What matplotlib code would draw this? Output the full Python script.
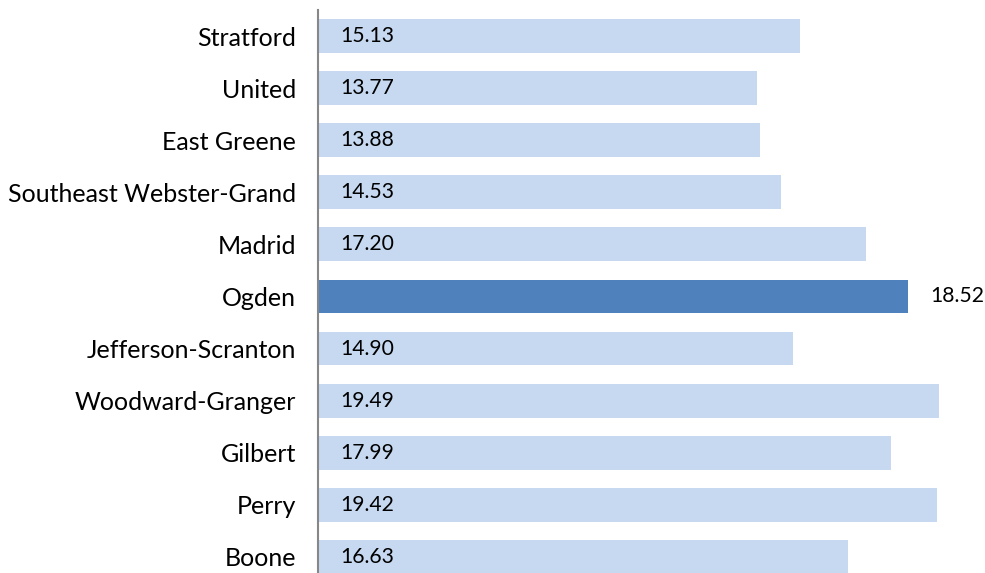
import matplotlib.pyplot as plt

schools = ['Stratford', 'United', 'East Greene', 'Southeast Webster-Grand', 'Madrid',
           'Ogden', 'Jefferson-Scranton', 'Woodward-Granger', 'Gilbert', 'Perry', 'Boone']
values = [15.13, 13.77, 13.88, 14.53, 17.20, 18.52, 14.90, 19.49, 17.99, 19.42, 16.63]
highlight = 'Ogden'

light = '#c6d9f1'
dark = '#4f81bd'
font = 'Lato'

fig = plt.figure(figsize=(9.85, 5.73), dpi=100)
ax = fig.add_axes([318 / 985, 0, 667 / 985, 563 / 573])

ypos = list(range(len(schools)))
colors = [dark if s == highlight else light for s in schools]
ax.barh(ypos, values, height=0.65, color=colors, left=0)

for y, s, v in zip(ypos, schools, values):
    if s == highlight:
        ax.text(v + 0.7, y, f'{v:.2f}', va='center', ha='left', fontsize=15.2, family=font, color='black')
    else:
        ax.text(0.7, y, f'{v:.2f}', va='center', ha='left', fontsize=15.2, family=font, color='black')

ax.set_yticks(ypos)
ax.set_yticklabels(schools, fontsize=18, family=font)
ax.tick_params(axis='y', length=0, pad=16)
ax.set_xticks([])
ax.set_xlim(0, 667 / 31.86)
ax.set_ylim(len(schools) - 1 + 0.31, -0.5)

for side in ['top', 'right', 'bottom']:
    ax.spines[side].set_visible(False)
ax.spines['left'].set_color('#878787')
ax.spines['left'].set_linewidth(1.5)

plt.savefig('out.png', dpi=100)
